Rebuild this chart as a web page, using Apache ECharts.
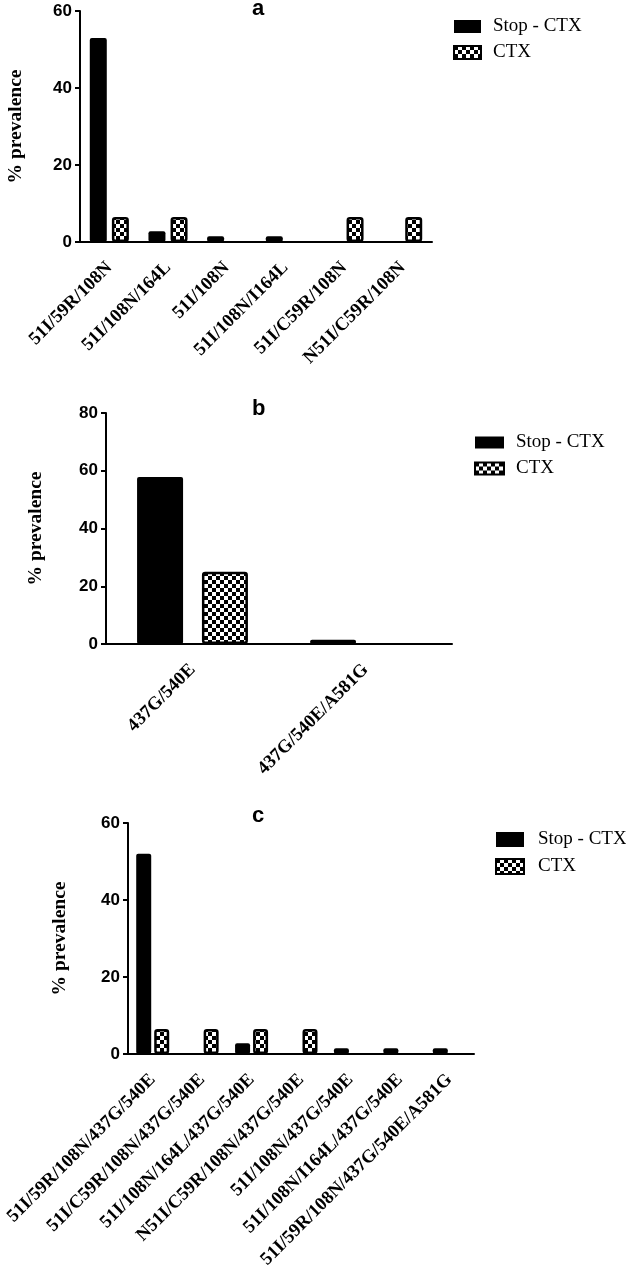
<!DOCTYPE html>
<html>
<head>
<meta charset="utf-8">
<script src="https://cdn.jsdelivr.net/npm/echarts@6/dist/echarts.min.js"></script>
<style>
  html, body { margin: 0; padding: 0; background: #fff; }
  #chart { width: 626px; height: 1275px; }
</style>
</head>
<body>
<div id="chart"></div>
<script>
// panel a
const catA = ['51I/59R/108N', '51I/108N/164L', '51I/108N', '51I/108N/I164L', '51I/C59R/108N', 'N51I/C59R/108N']
const stopA = [53, 2.8, 1.5, 1.5, 0, 0]
const ctxA = [6.5, 6.5, 0, 0, 6.5, 6.5]
// panel b
const catB = ['437G/540E', '437G/540E/A581G']
const stopB = [57.8, 1.5]
const ctxB = [25, 0]
// panel c
const catC = ['51I/59R/108N/437G/540E', '51I/C59R/108N/437G/540E', '51I/108N/164L/437G/540E',
  'N51I/C59R/108N/437G/540E', '51I/108N/437G/540E', '51I/108N/I164L/437G/540E', '51I/59R/108N/437G/540E/A581G']
const stopC = [52, 0, 2.8, 0, 1.5, 1.5, 1.5]
const ctxC = [6.5, 6.5, 6.5, 6.5, 0, 0, 0]
const yMaxes = [60, 80, 60]

const seriesNames = ['Stop - CTX', 'CTX']

// checkerboard fill for the CTX bars
function checker() {
  const c = document.createElement('canvas')
  c.width = 8
  c.height = 8
  const ctx = c.getContext('2d')
  ctx.fillStyle = '#fff'
  ctx.fillRect(0, 0, 8, 8)
  ctx.fillStyle = '#000'
  ctx.fillRect(0, 0, 4, 4)
  ctx.fillRect(4, 4, 4, 4)
  return c
}
const checkFill = { image: checker(), repeat: 'repeat' }

// zero bars are not drawn at all (otherwise the border shows as a line)
const noZero = arr => arr.map(v => (v === 0 ? '-' : v))

const chart = echarts.init(document.getElementById('chart'))

const grids = [
  { left: 80, top: 11, width: 352, height: 231, outerBoundsMode: 'none' },
  { left: 106, top: 413, width: 346, height: 231, outerBoundsMode: 'none' },
  { left: 128, top: 823, width: 346, height: 231, outerBoundsMode: 'none' }
]
const cats = [catA, catB, catC]
const nameGaps = [54, 60, 58]

const xAxes = cats.map((c, i) => ({
  type: 'category',
  gridIndex: i,
  data: c,
  axisLine: { lineStyle: { color: '#000', width: 2 } },
  axisTick: { alignWithLabel: true, length: 6, lineStyle: { color: '#000', width: 2 } },
  axisLabel: {
    rotate: 45,
    interval: 0,
    margin: 23,
    color: '#000',
    fontFamily: 'Liberation Serif',
    fontWeight: 'bold',
    fontSize: 18.5
  }
}))

const yAxes = yMaxes.map((m, i) => ({
  type: 'value',
  gridIndex: i,
  min: 0,
  max: m,
  interval: 20,
  name: '% prevalence',
  nameLocation: 'middle',
  nameGap: nameGaps[i],
  nameTextStyle: { color: '#000', fontFamily: 'Liberation Serif', fontWeight: 'bold', fontSize: 19.5 },
  splitLine: { show: false },
  axisLine: { show: true, lineStyle: { color: '#000', width: 2 } },
  axisTick: { show: true, length: 5, lineStyle: { color: '#000', width: 2 } },
  axisLabel: { margin: 8, color: '#000', fontFamily: 'Liberation Sans', fontWeight: 'bold', fontSize: 17 }
}))

const barW = [17, 46, 15]
const barGaps = ['30%', '41%', '20%']
const stops = [stopA, stopB, stopC]
const ctxs = [ctxA, ctxB, ctxC]
const series = []
for (let i = 0; i < 3; i++) {
  series.push({
    name: seriesNames[0],
    type: 'bar',
    xAxisIndex: i,
    yAxisIndex: i,
    data: noZero(stops[i]),
    barWidth: barW[i],
    barGap: barGaps[i],
    itemStyle: { color: '#000', borderRadius: 2 }
  })
  series.push({
    name: seriesNames[1],
    type: 'bar',
    xAxisIndex: i,
    yAxisIndex: i,
    data: noZero(ctxs[i]),
    barWidth: barW[i],
    barGap: barGaps[i],
    itemStyle: { color: checkFill, borderColor: '#000', borderWidth: 2.5, borderRadius: 2 }
  })
}

function legend(left, top, w, h, gap, pad) {
  return {
    data: seriesNames,
    orient: 'vertical',
    left: left,
    top: top,
    padding: 0,
    itemWidth: w,
    itemHeight: h,
    itemGap: gap,
    icon: 'rect',
    selectedMode: false,
    textStyle: { color: '#000', fontFamily: 'Liberation Serif', fontSize: 19, padding: [0, 0, 0, pad] }
  }
}

function title(text, top) {
  return {
    text: text,
    left: 252,
    top: top,
    padding: 0,
    textStyle: { color: '#000', fontFamily: 'Liberation Sans', fontWeight: 'bold', fontSize: 22 }
  }
}

chart.setOption({
  animation: false,
  title: [title('a', -2), title('b', 398), title('c', 805)],
  legend: [
    legend(453, 17, 27, 13, 7, 7),
    legend(474, 433, 29, 12, 7, 7),
    legend(495, 830, 28, 15, 8, 9)
  ],
  grid: grids,
  xAxis: xAxes,
  yAxis: yAxes,
  series: series
})
</script>
</body>
</html>
